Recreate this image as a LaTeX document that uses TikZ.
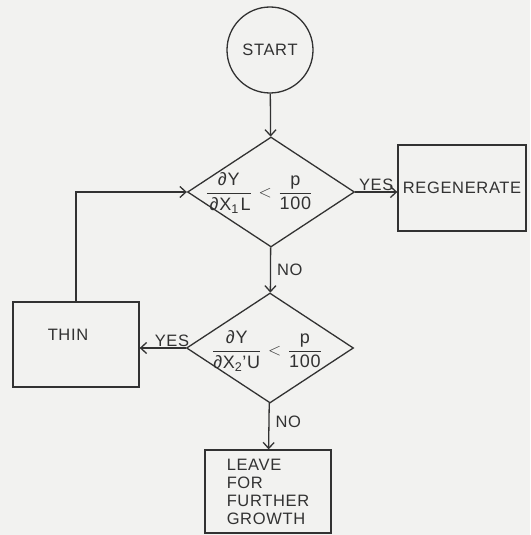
\documentclass[tikz,border=0pt]{standalone}
\usepackage{amsmath}
\usepackage{fontspec}
\setmainfont[LetterSpace=4]{Liberation Sans}
\usepackage{xcolor}
\usepackage{tikz}
\usetikzlibrary{calc, shapes.geometric, arrows.meta}

\definecolor{ink}{RGB}{50,50,50}
\definecolor{paper}{RGB}{242,242,240}

\tikzset{
    box/.style={draw=ink, line width=1.3pt, rectangle, minimum width=126pt, minimum height=85pt, inner sep=0pt, text=ink},
    decision/.style={draw=ink, line width=1.3pt, diamond, minimum width=167pt, minimum height=110pt, inner sep=0pt},
    formula/.style={text=ink, inner sep=0pt, font=\fontsize{18}{20}\selectfont},
    lbl/.style={text=ink, inner sep=1pt},
    flow/.style={draw=ink, line width=1.3pt, -{Straight Barb[length=6pt,width=11pt]}}
}

\begin{document}
\begin{tikzpicture}[x=1pt, y=-1pt, font=\fontsize{16.5}{18}\selectfont]
    % Nền
    \fill[paper] (0,0) rectangle (530,535);
    \useasboundingbox (0,0) rectangle (530,535);
    
    % Các khối
    \node[draw=ink, line width=1.3pt, circle, minimum size=86pt, inner sep=0pt, text=ink] (start) at (270,50) {START};
    \node[decision] (d1) at (271,192) {};
    \node[formula] (f1) at (259,193) {$\displaystyle\genfrac{}{}{1.2pt}{}{\text{∂Y}}{\mkern3mu\text{∂X}_{\text{1}}\mkern2mu\text{L}} \mkern2mu<\mkern2mu \genfrac{}{}{1.2pt}{}{\text{p}}{\text{100}}$};
    \node[decision] (d2) at (270,348) {};
    \node[formula] (f2) at (267,351) {$\displaystyle\genfrac{}{}{1.2pt}{}{\text{∂Y}}{\text{∂X}_{\text{2}}\text{'U}} \mkern2mu<\mkern2mu \genfrac{}{}{1.2pt}{}{\text{p}}{\text{100}}$};
    \node[box, minimum width=128pt, minimum height=86pt] (regen) at (462,188) {REGENERATE};
    \node[box, text depth=20pt] (thin) at (76,344.5) {THIN\hspace*{16pt}};
    \node[box, minimum height=83pt, align=left] (leave) at (268,491.5) {LEAVE\\FOR\\FURTHER\\GROWTH};
    
    % Các mũi tên
    \draw[flow] (start) -- (d1);
    \draw[flow] (d1.east) -- node[lbl, above] {YES} (d1.east -| regen.west);
    \draw[flow] (d1) -- node[lbl, right, xshift=5pt] {NO} (d2);
    \draw[flow] (d2.west) -- node[lbl, above, pos=0.3] {YES} (d2.west -| thin.east);
    \draw[flow] (d2) -- node[lbl, right, xshift=5pt, pos=0.4] {NO} (leave);
    \draw[flow] (thin.north) |- (d1.west);
    
\end{tikzpicture}
\end{document}
